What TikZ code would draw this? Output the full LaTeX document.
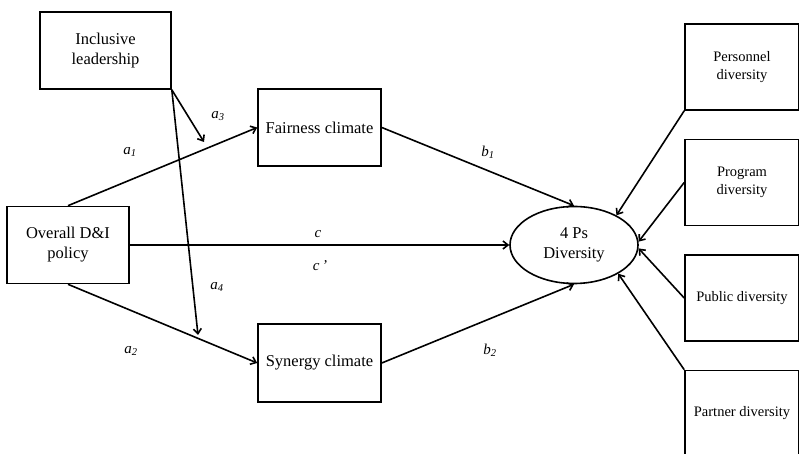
\documentclass[tikz,border=0pt]{standalone}
\usepackage{fontspec}
\setmainfont{Liberation Serif}
\usetikzlibrary{arrows.meta,shapes.geometric}
\begin{document}
\begin{tikzpicture}[x=1pt,y=1pt,line width=1.6pt,
                    main/.style = {draw, rectangle, align=center, inner sep=2pt,
                                   minimum width=123pt, minimum height=77pt,
                                   font=\fontsize{16.5}{20}\selectfont},
                    side/.style = {draw, rectangle, align=center, inner sep=2pt,
                                   minimum width=114pt, minimum height=86pt,
                                   font=\fontsize{14.5}{18}\selectfont},
                    lbl/.style = {font=\fontsize{15}{17}\selectfont\itshape},
                    arr/.style = {-{Straight Barb[length=5pt,width=8pt]}},
                    node distance=115.5pt]
                    \useasboundingbox (0,0) rectangle (799,454);

                    \node[main, minimum width=131pt] (lead) at (105.5,403.5) {Inclusive\\leadership};
                    \node[main, minimum width=122pt] (policy) at (68,209) {Overall D\&I\\policy};
                    \node[main] (fair) at (319.5,326.5) {Fairness climate};
                    \node[main, minimum height=78pt] (syn) at (319.5,91) {Synergy climate};
                    \node[draw, ellipse, minimum width=128pt, minimum height=77pt, inner sep=0pt,
                          align=center, font=\fontsize{16.5}{20}\selectfont] (div) at (574,209) {4 Ps\\Diversity};

                    \node[side] (p1) at (742,387) {Personnel\\diversity};
                    \node[side] (p2) [below of=p1] {Program\\diversity};
                    \node[side] (p3) [below of=p2] {Public diversity};
                    \node[side] (p4) [below of=p3] {Partner diversity};

                    \coordinate (m3) at (204,312);
                    \coordinate (m4) at (198,119);

                    \draw[arr] (policy.north) -- (fair.west);
                    \draw[arr] (policy.south) -- (syn.west);
                    \draw[arr] (policy) -- (div);
                    \draw[arr] (lead.south east) -- (m3);
                    \draw[arr] (lead.south east) -- (m4);
                    \draw[arr] (fair.east) -- (div.north);
                    \draw[arr] (syn.east) -- (div.south);
                    \draw[arr] (p1.south west) -- (div.35);
                    \draw[arr] (p2.west) -- (div.3);
                    \draw[arr] (p3.west) -- (div.-3);
                    \draw[arr] (p4.north west) -- (div.-33);

                    \node[lbl] (a1) at (130,302) {a\textsubscript{1}};
                    \node[lbl] (a3) at (218,338) {a\textsubscript{3}};
                    \node[lbl] (c) at (318,220) {c};
                    \node[lbl] (cp) at (320,188) {c\,’};
                    \node[lbl] (a4) at (217,167) {a\textsubscript{4}};
                    \node[lbl] (a2) at (131,103) {a\textsubscript{2}};
                    \node[lbl] (b1) at (488,302) {b\textsubscript{1}};
                    \node[lbl] (b2) at (490,104) {b\textsubscript{2}};
                \end{tikzpicture}
\end{document}
